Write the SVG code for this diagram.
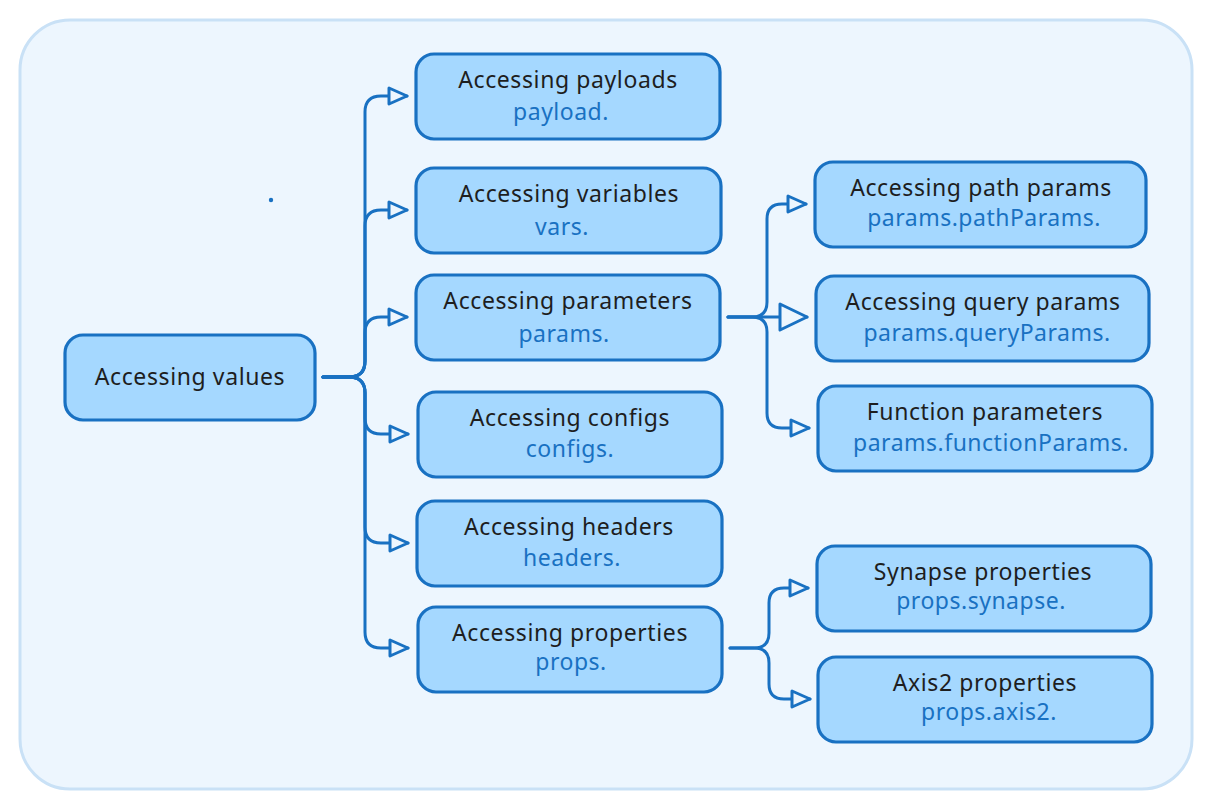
<svg xmlns="http://www.w3.org/2000/svg" width="1212" height="810" viewBox="0 0 1212 810">
<defs>
<style>
.bg{fill:#EDF6FE;stroke:#C9E1F6;stroke-width:3}
.box{fill:#A5D8FF;stroke:#1971C2;stroke-width:3.2}
.t{font-family:"Noto Sans","Liberation Sans",sans-serif;font-size:23px;letter-spacing:0.6px;fill:#1E1E1E;text-anchor:middle}
.c{font-family:"Noto Sans","Liberation Sans",sans-serif;font-size:23px;letter-spacing:0.5px;fill:#1971C2;text-anchor:middle}
.edge{fill:none;stroke:#1971C2;stroke-width:3;stroke-linejoin:round;stroke-linecap:round}
</style>
<marker id="ah" viewBox="0 0 20 18" refX="19" refY="9" markerWidth="20" markerHeight="18" markerUnits="userSpaceOnUse" orient="auto" overflow="visible">
<path d="M1,1 L19,9 L1,17 Z" fill="#EDF6FE" stroke="#1971C2" stroke-width="3" stroke-linejoin="round"/>
</marker>
<marker id="ahL" viewBox="0 0 29 28" refX="28" refY="14" markerWidth="29" markerHeight="28" markerUnits="userSpaceOnUse" orient="auto" overflow="visible">
<path d="M1,1 L28,14 L1,27 Z" fill="#EDF6FE" stroke="#1971C2" stroke-width="3" stroke-linejoin="round"/>
</marker>
</defs>
<rect class="bg" x="20" y="20" width="1172" height="769" rx="50"/>
<circle cx="271" cy="200" r="2.2" fill="#1971C2"/>
<g id="connectors">
<path class="edge" marker-end="url(#ah)" d="M323,377 H349 Q365,377 365,361 V112 Q365,96 381,96 H407"/>
<path class="edge" marker-end="url(#ah)" d="M323,377 H349 Q365,377 365,361 V226 Q365,210 381,210 H407"/>
<path class="edge" marker-end="url(#ah)" d="M323,377 H349 Q365,377 365,361 V333 Q365,317 381,317 H407"/>
<path class="edge" marker-end="url(#ah)" d="M323,377 H349 Q365,377 365,393 V418 Q365,434 381,434 H408"/>
<path class="edge" marker-end="url(#ah)" d="M323,377 H349 Q365,377 365,393 V527 Q365,543 381,543 H408"/>
<path class="edge" marker-end="url(#ah)" d="M323,377 H349 Q365,377 365,393 V632 Q365,648 381,648 H408"/>
<path class="edge" marker-end="url(#ah)" d="M728,317 H752 Q767,317 767,302 V219 Q767,204 782,204 H806"/>
<path class="edge" marker-end="url(#ahL)" d="M728,317 H807"/>
<path class="edge" marker-end="url(#ah)" d="M728,317 H752 Q767,317 767,332 V413 Q767,428 782,428 H809"/>
<path class="edge" marker-end="url(#ah)" d="M730,648 H754 Q769,648 769,633 V603 Q769,588 784,588 H808"/>
<path class="edge" marker-end="url(#ah)" d="M730,648 H754 Q769,648 769,663 V684 Q769,699 784,699 H810"/>
</g>
<g id="root"><rect class="box" x="65" y="335" width="250" height="85" rx="18"/><text class="t" x="190" y="385">Accessing values</text></g>
<g id="payloads"><rect class="box" x="416" y="54" width="304" height="85" rx="18"/><text class="t" x="568" y="88">Accessing payloads</text><text class="c" x="561" y="120">payload.</text></g>
<g id="variables"><rect class="box" x="416" y="168" width="305" height="85" rx="18"/><text class="t" x="569" y="202">Accessing variables</text><text class="c" x="562" y="235">vars.</text></g>
<g id="parameters"><rect class="box" x="416" y="275" width="304" height="85" rx="18"/><text class="t" x="568" y="309">Accessing parameters</text><text class="c" x="564" y="342">params.</text></g>
<g id="configs"><rect class="box" x="418" y="392" width="304" height="85" rx="18"/><text class="t" x="570" y="426">Accessing configs</text><text class="c" x="570" y="457">configs.</text></g>
<g id="headers"><rect class="box" x="417" y="501" width="305" height="85" rx="18"/><text class="t" x="569" y="535">Accessing headers</text><text class="c" x="572" y="566">headers.</text></g>
<g id="properties"><rect class="box" x="418" y="607" width="304" height="85" rx="18"/><text class="t" x="570" y="641">Accessing properties</text><text class="c" x="571" y="670">props.</text></g>
<g id="pathParams"><rect class="box" x="815" y="162" width="331" height="85" rx="18"/><text class="t" x="981" y="196">Accessing path params</text><text class="c" x="984" y="226">params.pathParams.</text></g>
<g id="queryParams"><rect class="box" x="816" y="276" width="333" height="85" rx="18"/><text class="t" x="983" y="310">Accessing query params</text><text class="c" x="987" y="341">params.queryParams.</text></g>
<g id="functionParams"><rect class="box" x="818" y="386" width="334" height="85" rx="18"/><text class="t" x="985" y="420">Function parameters</text><text class="c" x="991" y="451">params.functionParams.</text></g>
<g id="synapse"><rect class="box" x="817" y="546" width="334" height="85" rx="18"/><text class="t" x="983" y="580">Synapse properties</text><text class="c" x="981" y="609">props.synapse.</text></g>
<g id="axis2"><rect class="box" x="818" y="657" width="334" height="85" rx="18"/><text class="t" x="985" y="691">Axis2 properties</text><text class="c" x="989" y="720">props.axis2.</text></g>
</svg>
